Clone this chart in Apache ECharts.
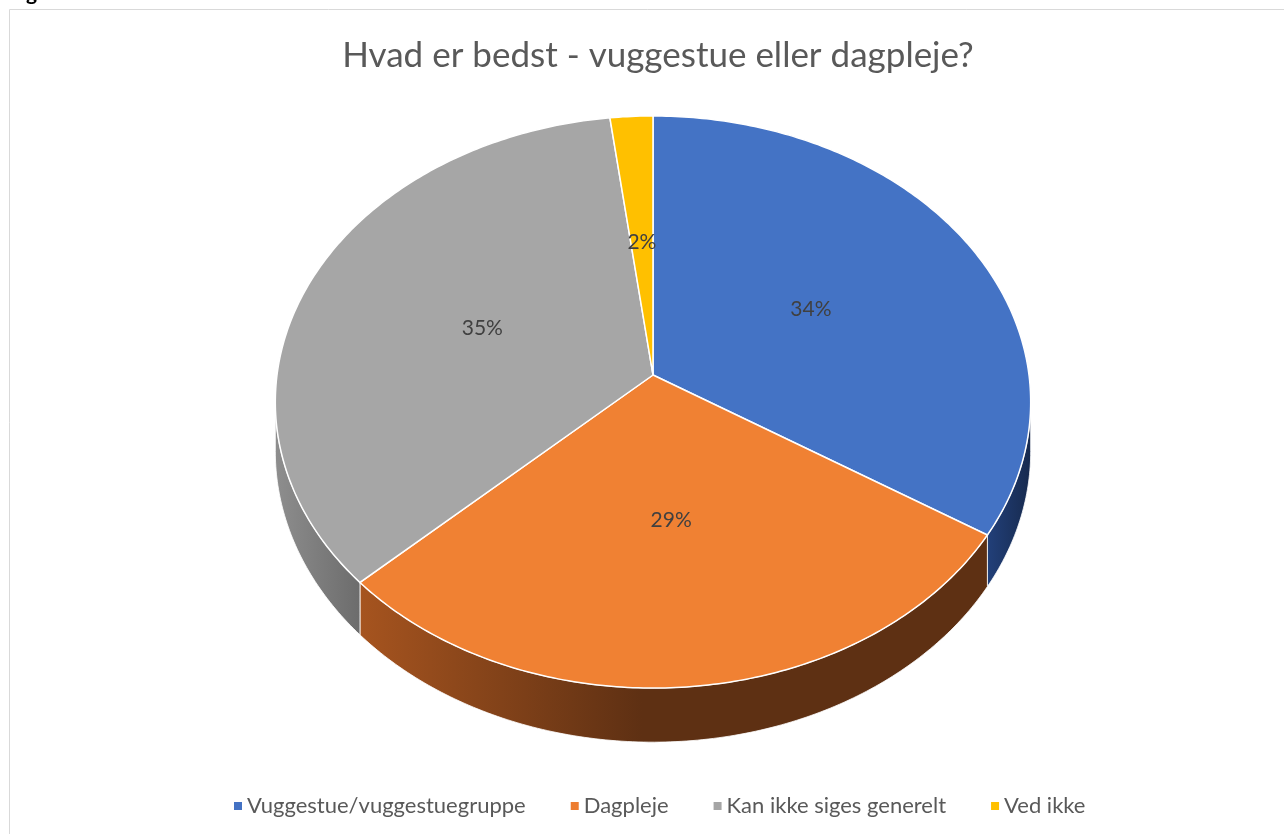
<!DOCTYPE html>
<html>
<head>
<meta charset="utf-8">
<script src="https://cdn.jsdelivr.net/npm/echarts@6/dist/echarts.min.js"></script>
<style>
  html, body { margin: 0; padding: 0; background: #fff; }
  #chart { width: 1284px; height: 834px; }
</style>
</head>
<body>
<div id="chart"></div>
<script>
// data (percent of answers)
const categories = ['Vuggestue/vuggestuegruppe', 'Dagpleje', 'Kan ikke siges generelt', 'Ved ikke']
const values = [34, 29, 35, 2]
const colors = ['#4472c4', '#ed7d31', '#a5a5a5', '#ffc000']
// top face a touch lighter (excel lighting)
const topColors = ['#4473c5', '#f08133', '#a6a6a6', '#ffc000']
// side wall shading, light -> dark
const sideColors = [
  ['#22407a', '#172a4e'],
  ['#a6541f', '#5e3013'],
  ['#8e8e8e', '#6c6c6c'],
  ['#bf9000', '#7f6000'],
]

const font = 'Lato, "Open Sans", sans-serif'
const total = values.reduce((a, b) => a + b, 0)

// 3d pie layout
const cx = 653
const cy = 375
const rx = 376
const ry = 283.5
const persp = 0.0944 // how much the near edge grows
const depth = 49
const labelR = 0.49

function proj(t, r, drop) {
  const u = r * Math.sin(t)
  const v = -r * Math.cos(t)
  const s = 1 / (1 - persp * v)
  return [cx + rx * u * s, cy + ry * v * s + drop * s]
}

function arc(a0, a1, r, drop) {
  const pts = []
  const n = Math.max(2, Math.ceil((a1 - a0) / (Math.PI / 240)))
  for (let k = 0; k <= n; k++) {
    pts.push(proj(a0 + (a1 - a0) * k / n, r, drop))
  }
  return pts
}

function sliceRender(i) {
  return function (params, api) {
    let before = 0
    for (let k = 0; k < i; k++) before += values[k]
    const a0 = before / total * Math.PI * 2
    const a1 = (before + values[i]) / total * Math.PI * 2
    const children = []

    // outer wall, only the part facing us
    const tL = Math.acos(-persp)
    const tR = Math.PI * 2 - tL
    const lo = Math.max(a0, tL)
    const hi = Math.min(a1, tR)
    if (lo < hi) {
      const wall = arc(lo, hi, 1, 0).concat(arc(lo, hi, 1, depth).reverse())
      children.push({
        type: 'polygon',
        z2: 1,
        shape: { points: wall },
        style: {
          fill: new echarts.graphic.LinearGradient(0, 0, 1, 0, [
            { offset: 0, color: sideColors[i][0] },
            { offset: i === 1 ? 0.45 : 1, color: sideColors[i][1] },
            { offset: 1, color: sideColors[i][1] },
          ]),
          stroke: '#ffffff',
          lineWidth: 0.8,
        },
      })
    }

    // top face
    const top = [proj(0, 0, 0)].concat(arc(a0, a1, 1, 0))
    children.push({
      type: 'polygon',
      z2: 10,
      shape: { points: top },
      style: { fill: topColors[i], stroke: '#ffffff', lineWidth: 1.5 },
    })

    const p = proj((a0 + a1) / 2, labelR, 0)
    children.push({
      type: 'text',
      z2: 20,
      style: {
        text: Math.round(values[i] / total * 100) + '%',
        x: p[0],
        y: p[1],
        align: 'center',
        verticalAlign: 'middle',
        fill: '#404040',
        font: '21px ' + font,
      },
    })
    return { type: 'group', children: children }
  }
}

const myChart = echarts.init(document.getElementById('chart'), null, { renderer: 'canvas' })

myChart.setOption({
  animation: false,
  title: {
    text: 'Hvad er bedst - vuggestue eller dagpleje?',
    left: 653,
    textAlign: 'center',
    top: 33,
    textStyle: { fontFamily: font, fontSize: 35, fontWeight: 'normal', color: '#595959' },
  },
  legend: {
    data: categories,
    left: 229,
    top: 790,
    icon: 'rect',
    itemWidth: 8,
    itemHeight: 8,
    itemGap: 45,
    textStyle: { fontFamily: font, fontSize: 22, color: '#595959' },
  },
  graphic: [
    {
      type: 'rect',
      shape: { x: 9.5, y: 9.5, width: 1300, height: 900 },
      style: { fill: 'none', stroke: '#d9d9d9', lineWidth: 1 },
      silent: true,
    },
    {
      type: 'text',
      left: 26,
      top: -17,
      style: { text: 'g', font: 'bold 21px ' + font, fill: '#000' },
      silent: true,
    },
  ],
  series: categories.map((name, i) => ({
    type: 'custom',
    name: name,
    coordinateSystem: 'none',
    itemStyle: { color: colors[i] },
    renderItem: sliceRender(i),
    data: [values[i]],
    silent: true,
  })),
})
</script>
</body>
</html>
